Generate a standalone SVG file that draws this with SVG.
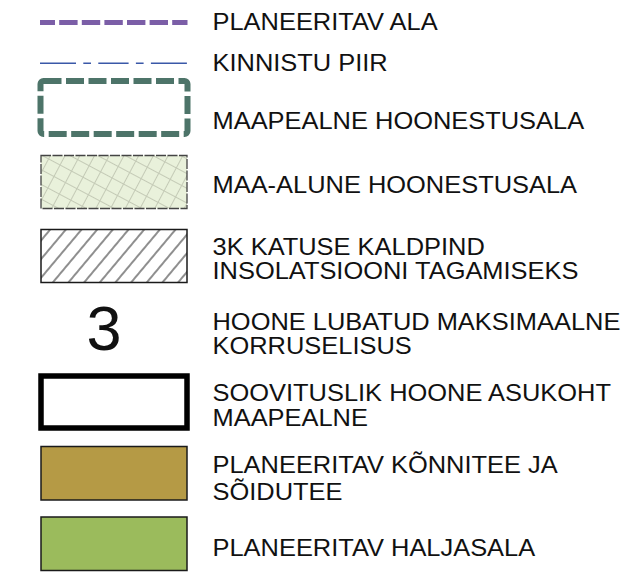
<svg xmlns="http://www.w3.org/2000/svg" width="632" height="576" viewBox="0 0 632 576">
<style>
  text { font-family: "Liberation Sans", Arial, sans-serif; font-size: 24px; fill: #111; }
  .sym { stroke: #1a1a1a; stroke-width: 1.5; }
</style>
<defs>
  <pattern id="cross" width="13" height="13" patternUnits="userSpaceOnUse" patternTransform="rotate(28)">
    <rect width="13" height="13" fill="#e9f1db"/>
    <path d="M0 0.5 H13 M0.5 0 V13" stroke="#c4cab6" stroke-width="1"/>
  </pattern>
  <pattern id="diag" width="12" height="12" patternUnits="userSpaceOnUse" patternTransform="rotate(-50)">
    <rect width="12" height="12" fill="#fff"/>
    <path d="M0 6 H12" stroke="#333" stroke-width="1.1"/>
  </pattern>
</defs>
<rect width="632" height="576" fill="#fff"/>

<g id="planeeritav-ala">
  <line x1="40" y1="22.5" x2="187.5" y2="22.5" stroke="#7b5ea7" stroke-width="5" stroke-dasharray="18.4 4.2" stroke-dashoffset="3.4"/>
  <text transform="translate(212.5 29.5) scale(1.06 1)">PLANEERITAV ALA</text>
</g>
<g id="kinnistu-piir">
  <line x1="40" y1="63.3" x2="187" y2="63.3" stroke="#3a58a8" stroke-width="1.5" stroke-dasharray="36 7.3 7.7 7.3 30.3 7.3 7.7 7.3 36"/>
  <text transform="translate(212.5 71) scale(1.06 1)">KINNISTU PIIR</text>
</g>
<g id="maapealne-hoonestusala">
  <rect x="40.5" y="81" width="147" height="53" rx="3" fill="none" stroke="#4d7469" stroke-width="6" stroke-dasharray="18 4.5"/>
  <text transform="translate(212.5 128.5) scale(1.06 1)">MAAPEALNE HOONESTUSALA</text>
</g>
<g id="maa-alune-hoonestusala">
  <rect x="41" y="155.5" width="146" height="53" fill="url(#cross)" stroke="#444" stroke-width="1.3" stroke-dasharray="10 1.5"/>
  <text transform="translate(212.5 193) scale(1.06 1)">MAA-ALUNE HOONESTUSALA</text>
</g>
<g id="katuse-kaldpind">
  <rect class="sym" x="41" y="229.5" width="146" height="53" fill="url(#diag)"/>
  <text transform="translate(212.5 255) scale(1.06 1)">3K KATUSE KALDPIND</text>
  <text transform="translate(212.5 279.3) scale(1.06 1)">INSOLATSIOONI TAGAMISEKS</text>
</g>
<g id="korruselisus">
  <text x="104" y="350" style="font-size:63px;text-anchor:middle">3</text>
  <text transform="translate(212.5 330) scale(1.06 1)">HOONE LUBATUD MAKSIMAALNE</text>
  <text transform="translate(212.5 354) scale(1.06 1)">KORRUSELISUS</text>
</g>
<g id="soovituslik-hoone">
  <rect x="41" y="376" width="146" height="52" fill="#fff" stroke="#000" stroke-width="5.5"/>
  <text transform="translate(212.5 401) scale(1.06 1)">SOOVITUSLIK HOONE ASUKOHT</text>
  <text transform="translate(212.5 426) scale(1.06 1)">MAAPEALNE</text>
</g>
<g id="konnitee">
  <rect class="sym" x="41" y="446.5" width="146" height="53.5" fill="#b59a45" stroke="#111"/>
  <text transform="translate(212.5 473.3) scale(1.06 1)">PLANEERITAV KÕNNITEE JA</text>
  <text transform="translate(212.5 500) scale(1.06 1)">SÕIDUTEE</text>
</g>
<g id="haljasala">
  <rect class="sym" x="41" y="517" width="146" height="53.5" fill="#9bbb5c" stroke="#111"/>
  <text transform="translate(212.5 556) scale(1.06 1)">PLANEERITAV HALJASALA</text>
</g>
<g id="connectors"></g>
</svg>
